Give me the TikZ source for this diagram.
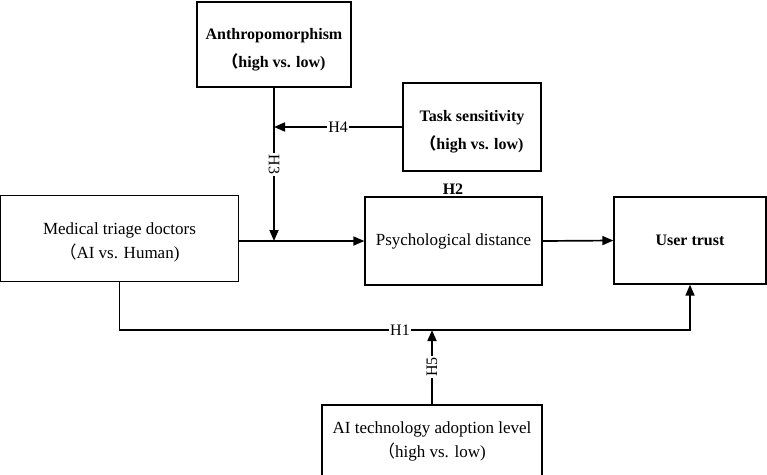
\documentclass[tikz,border=0pt]{standalone}
\usepackage{fontspec}
\setmainfont{Liberation Serif}
\newfontfamily\cjk{Noto Sans CJK SC}
\usetikzlibrary{arrows.meta}
\newcommand{\twolines}[3]{\vbox{\vskip#1\hbox{\begin{tabular}{@{}c@{}}#2\\#3\end{tabular}}}}
\begin{document}
\begin{tikzpicture}[x=1pt,y=-1pt,
  box/.style={draw, line width=1.3pt, inner sep=0pt},
  reg/.style={font=\fontsize{17}{24}\selectfont},
  bld/.style={font=\fontsize{16}{28}\selectfont\bfseries},
  conn/.style={line width=1.7pt},
  arr/.style={conn, -{Triangle[length=11pt,width=9pt]}},
  hlab/.style={fill=white, inner sep=1.5pt, font=\fontsize{16}{16}\selectfont}]
\useasboundingbox (0,0) rectangle (767,474);
\node[box,bld,minimum width=154pt,minimum height=85pt] (anth) at (274,44.5) {\twolines{6pt}{Anthropomorphism}{{\cjk （}high vs. low)}};
\node[box,bld,minimum width=138pt,minimum height=88pt] (task) at (472,127) {\twolines{6pt}{Task sensitivity}{{\cjk （}high vs. low)}};
\node[box,reg,minimum width=238pt,minimum height=86pt] (med) at (119.5,238.5) {\twolines{6pt}{Medical triage doctors}{{\cjk （}AI vs. Human)}};
\node[box,reg,minimum width=177pt,minimum height=88pt] (psych) at (453.5,241) {Psychological distance};
\node[box,bld,minimum width=152pt,minimum height=87pt] (user) at (690,240.5) {User trust};
\node[box,reg,minimum width=220pt,minimum height=72pt] (ai) at (432,441) {\twolines{0pt}{AI technology adoption level}{{\cjk （}high vs. low)}};
\node[font=\fontsize{16}{16}\selectfont\bfseries] (h2) at (453,189) {H2};
\coordinate (j) at (anth.south |- psych.west);
\coordinate (h1y) at (0,330);
\draw[arr] (med.east |- psych.west) -- (psych.west);
\draw[arr] (anth.south) -- node[hlab,rotate=-90] (h3) {H3} (j);
\draw[arr] (task.west) -- node[hlab] (h4) {H4} (task.west -| anth.south);
\draw[arr] (psych.east) -- (user.west);
\draw[arr] (med.south) |- (user.south |- h1y) -- (user.south);
\node[hlab] (h1) at (400,330) {H1};
\draw[arr] (ai.north) -- node[hlab,rotate=90] (h5) {H5} (ai.north |- h1y);
\end{tikzpicture}
\end{document}
